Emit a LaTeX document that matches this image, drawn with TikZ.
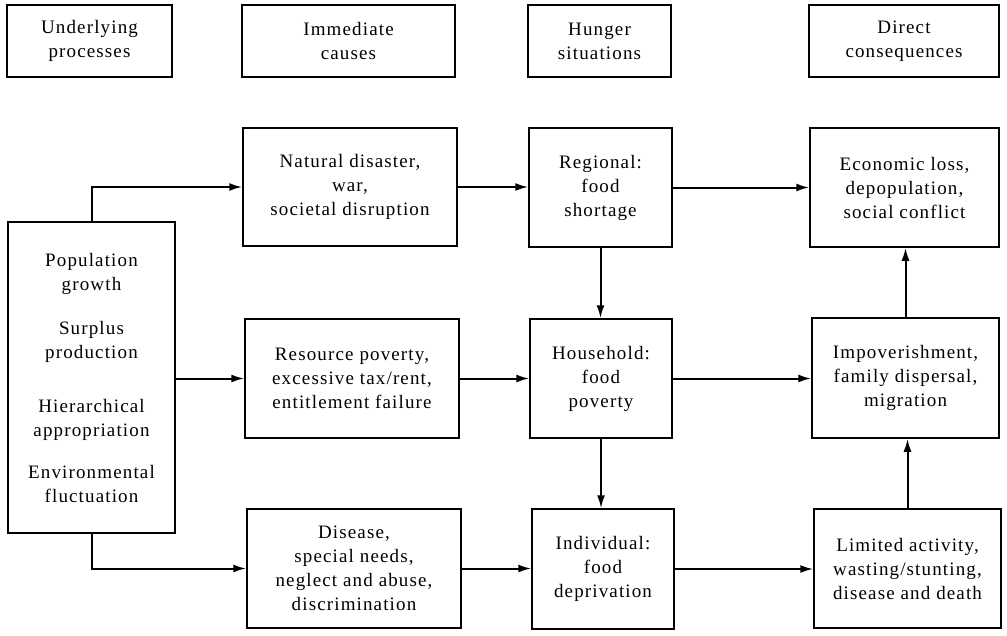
\documentclass[tikz,border=0pt]{standalone}
\usepackage{fontspec}
\setmainfont[LetterSpace=6]{Liberation Serif}
\usetikzlibrary{arrows.meta}
\begin{document}
\begin{tikzpicture}[x=1pt,y=-1pt,
  box/.style={draw, line width=1.5pt, inner sep=0pt, align=center,
    font=\fontsize{19}{24}\selectfont},
  conn/.style={line width=2pt, -{Latex[length=13pt,width=8pt]}}]
\fill[white] (0,0) rectangle (1007,635);
\useasboundingbox (0,0) rectangle (1007,635);
% headers
\node[box, minimum width=165pt, minimum height=72pt] (h1) at (89.5,41) {Underlying\\processes};
\node[box, minimum width=213pt, minimum height=72pt] (h2) at (348.5,41) {Immediate\\causes};
\node[box, minimum width=143pt, minimum height=72pt] (h3) at (599.5,41) {Hunger\\situations};
\node[box, minimum width=190pt, minimum height=72pt] (h4) at (904,41) {Direct\\consequences};
% left column
\node[box, minimum width=167pt, minimum height=311pt] (pop) at (91.5,377.5)
  {Population\\growth\\[20pt]Surplus\\production\\[30pt]Hierarchical\\appropriation\\[18pt]Environmental\\fluctuation};
% immediate causes
\node[box, minimum width=214pt, minimum height=118pt] (nat) at (350,187) {Natural disaster,\\war,\\societal disruption};
\node[box, minimum width=214pt, minimum height=119pt] (res) at (352,378.5) {Resource poverty,\\excessive tax/rent,\\entitlement failure};
\node[box, minimum width=214pt, minimum height=119pt] (dis) at (354,568.5) {Disease,\\special needs,\\neglect and abuse,\\discrimination};
% hunger situations
\node[box, minimum width=143pt, minimum height=119pt] (reg) at (600.5,187.5) {Regional:\\food\\shortage};
\node[box, minimum width=142pt, minimum height=119pt] (hou) at (601,378.5) {Household:\\food\\poverty};
\node[box, minimum width=142pt, minimum height=120pt] (ind) at (603,569) {Individual:\\food\\deprivation};
% consequences
\node[box, minimum width=189pt, minimum height=119pt] (eco) at (904.5,187.5) {Economic loss,\\depopulation,\\social conflict};
\node[box, minimum width=187pt, minimum height=120pt] (imp) at (905.5,378) {Impoverishment,\\family dispersal,\\migration};
\node[box, minimum width=187pt, minimum height=119pt] (lim) at (907.5,568.5) {Limited activity,\\wasting/stunting,\\disease and death};
% connectors
\draw[conn] (pop.north) |- (nat.west);
\draw[conn] (pop.east |- res.west) -- (res.west);
\draw[conn] (pop.south) |- (dis.west);
\draw[conn] (nat.east) -- (nat.east -| reg.west);
\draw[conn] (res.east) -- (res.east -| hou.west);
\draw[conn] (dis.east) -- (dis.east -| ind.west);
\draw[conn] (reg.east) -- (reg.east -| eco.west);
\draw[conn] (hou.east) -- (hou.east -| imp.west);
\draw[conn] (ind.east) -- (ind.east -| lim.west);
\draw[conn] (reg.south) -- (reg.south |- hou.north);
\draw[conn] (hou.south) -- (hou.south |- ind.north);
\draw[conn] (imp.north) -- (imp.north |- eco.south);
\draw[conn] (lim.north) -- (lim.north |- imp.south);
\end{tikzpicture}
\end{document}
